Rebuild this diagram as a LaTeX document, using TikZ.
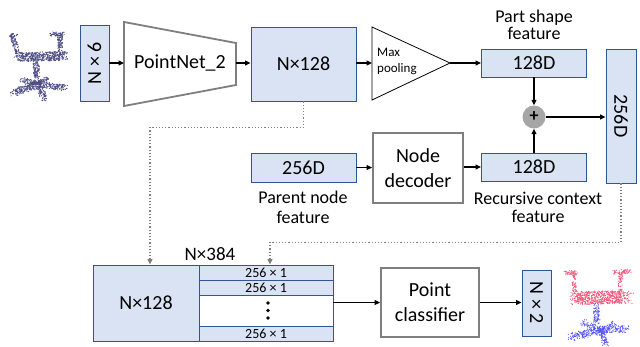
\documentclass[tikz,border=0pt]{standalone}
\usepackage{fontspec}
\setmainfont{Carlito}
\usetikzlibrary{arrows.meta,calc}
\definecolor{boxfill}{HTML}{DAE3F3}
\definecolor{boxline}{HTML}{2F5597}
\definecolor{grayline}{HTML}{7F7F7F}
\definecolor{plusfill}{HTML}{A6A6A6}
\definecolor{chairin}{HTML}{4A4A85}
\definecolor{chairpink}{HTML}{F0587A}
\definecolor{chairblue}{HTML}{5050F0}
\newcommand\pcloud[7]{%
  \foreach \ii in {1,...,#6}{%
    \pgfmathsetmacro\tt{rnd}%
    \pgfmathsetmacro\px{#1+\tt*(#3-#1)+rand*#5/2}%
    \pgfmathsetmacro\py{#2+\tt*(#4-#2)+rand*#5/2}%
    \fill[#7] (\px,\py) circle (0.6pt);
  }}
\begin{document}
\begin{tikzpicture}[x=1pt,y=-1pt,
  bluebox/.style={draw=boxline, fill=boxfill, line width=0.9pt, inner sep=0pt, font=\fontsize{20}{24}\selectfont},
  graybox/.style={draw=grayline, fill=white, line width=1.8pt, inner sep=0pt, align=center, font=\fontsize{20}{25}\selectfont},
  rowbox/.style={draw=boxline, fill=boxfill, line width=0.9pt, inner sep=0pt, minimum width=134pt, minimum height=15pt, font=\fontsize{14}{14}\selectfont},
  lab/.style={align=center, inner sep=0pt},
  arr/.style={-{Triangle[length=5.5pt,width=5pt]}, line width=1.2pt},
  dotarr/.style={grayline, dotted, line width=1.2pt, -{Triangle[length=5.5pt,width=5pt]}}]
\useasboundingbox (0,0) rectangle (640,346);
\pgfmathsetseed{42}
% input chair
\pcloud{12}{34}{18}{55}{5}{110}{chairin}
\pcloud{10}{35}{17}{34}{3}{20}{chairin}
\pcloud{51}{34}{63}{34}{4}{60}{chairin}
\pcloud{60}{34}{60}{55}{5}{100}{chairin}
\pcloud{18}{57}{64}{56}{9}{480}{chairin}
\pcloud{36}{62}{37}{80}{6}{110}{chairin}
\pcloud{13}{93}{38}{84}{7}{200}{chairin}
\pcloud{38}{84}{65}{88}{6}{170}{chairin}
\pcloud{38}{85}{45}{99}{6}{100}{chairin}
\pcloud{22}{80}{38}{84}{5}{80}{chairin}
\pcloud{38}{83}{48}{78}{4}{50}{chairin}
% output chair
\pcloud{566}{272}{578}{273}{4}{50}{chairpink}
\pcloud{573}{273}{575}{292}{4}{60}{chairpink}
\pcloud{614}{272}{630}{271}{4}{55}{chairpink}
\pcloud{621}{272}{620}{292}{4}{60}{chairpink}
\pcloud{574}{298}{627}{297}{13}{650}{chairpink}
\pcloud{596}{305}{597}{322}{6}{80}{chairblue}
\pcloud{601}{330}{572}{337}{8}{170}{chairblue}
\pcloud{601}{330}{627}{329}{7}{120}{chairblue}
\pcloud{601}{330}{606}{345}{6}{70}{chairblue}
\pcloud{601}{330}{582}{322}{6}{70}{chairblue}
\pcloud{601}{330}{615}{323}{5}{50}{chairblue}
% top row
\node[bluebox, minimum width=29pt, minimum height=76pt] (n6) at (94.5,63) {\rotatebox{90}{N × 6}};
\draw[grayline, fill=white, line width=1.8pt] (124,22) -- (236,43) -- (236,85) -- (124,106) -- cycle;
\coordinate (pnL) at (124,63);
\coordinate (pnR) at (236,63);
\node[lab, font=\fontsize{20}{24}\selectfont] (pn) at (180,63) {PointNet\_2};
\node[bluebox, minimum width=105pt, minimum height=74pt] (n128) at (303.5,64) {N×128};
\draw[line width=0.8pt, fill=white] (372,27) -- (450,63) -- (372,100) -- cycle;
\coordinate (mpL) at (372,63);
\coordinate (mpR) at (450,63);
\node[lab, anchor=west, font=\fontsize{13}{14}\selectfont] (mx) at (377,52) {Max};
\node[lab, anchor=west, font=\fontsize{13}{14}\selectfont] (mpo) at (377,69) {pooling};
\node[bluebox, minimum width=105pt, minimum height=28pt] (ps) at (534,63) {128D};
\node[lab, font=\fontsize{18}{17}\selectfont] (psl) at (534,25) {Part shape\\feature};
\node[circle, fill=plusfill, minimum size=23pt, inner sep=0pt, font=\fontsize{18}{18}\bfseries] (plus) at (534,117) {+};
\node[bluebox, minimum width=30pt, minimum height=134pt] (v256) at (621,116) {\rotatebox{-90}{256D}};
% middle row
\node[bluebox, minimum width=105pt, minimum height=29pt] (par) at (303.5,167.5) {256D};
\node[lab, font=\fontsize{18}{20}\selectfont] (parl) at (303,207) {Parent node\\feature};
\node[graybox, minimum width=90pt, minimum height=70pt] (nd) at (418,168) {Node\\decoder};
\node[bluebox, minimum width=105pt, minimum height=28pt] (rc) at (534,167) {128D};
\node[lab, font=\fontsize{18}{18}\selectfont] (rcl) at (538,207) {Recursive context\\feature};
% bottom row
\node[bluebox, minimum width=106pt, minimum height=76pt] (bl) at (146,303) {N×128};
\node[rowbox] (r1) at (266,272.5) {256 × 1};
\node[rowbox] (r2) at (266,287.5) {256 × 1};
\node[rowbox, fill=white, minimum height=31pt] (rw) at (266,310.5) {};
\node[rowbox] (r4) at (266,333.5) {256 × 1};
\fill (268,303) circle (1.9pt) (268,310.5) circle (1.9pt) (268,318) circle (1.9pt);
\node[lab, font=\fontsize{19}{20}\selectfont] (n384) at (210,254) {N×384};
\node[graybox, minimum width=98pt, minimum height=69pt] (pc) at (430,302.5) {Point\\classifier};
\node[bluebox, minimum width=29pt, minimum height=66pt] (n2) at (536.5,303) {\rotatebox{-90}{N × 2}};
% connectors
\draw[arr] (n6.east) -- (pnL);
\draw[arr] (pnR) -- (pnR -| n128.west);
\draw[arr] (n128.east |- mpL) -- (mpL);
\draw[arr] (mpR) -- (ps.west |- mpR);
\draw[arr] (ps.south) -- (plus.north);
\draw[arr] (rc.north) -- (plus.south);
\draw[arr] (plus.east) -- (v256.west |- plus.east);
\draw[arr] (par.east) -- (nd.west |- par.east);
\draw[arr] (nd.east |- rc.west) -- (rc.west);
\draw[arr] (rw.east |- pc.west) -- (pc.west);
\draw[arr] (pc.east) -- (n2.west |- pc.east);
\draw[dotarr] (n128.south) -- ++(0,26) -| ($(bl.north)+(4,0)$);
\draw[dotarr] (v256.south) -- ++(0,59) -| ($(r1.north)+(4,0)$);
\end{tikzpicture}
\end{document}
